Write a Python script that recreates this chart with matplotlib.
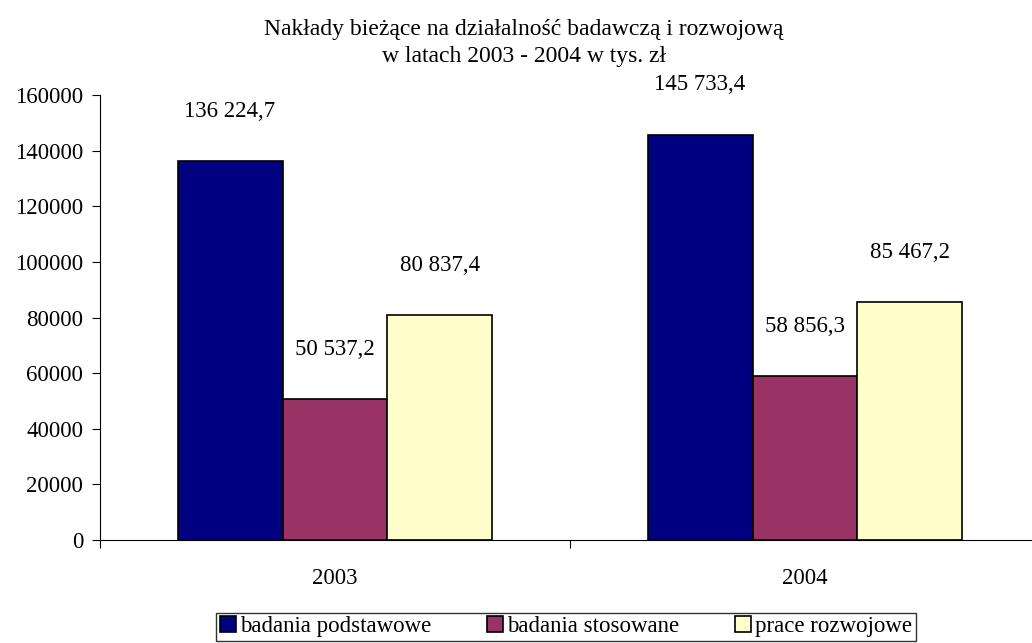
import numpy as np
import matplotlib.pyplot as plt

plt.rcParams['font.family'] = ['Liberation Serif', 'DejaVu Serif']

years = ['2003', '2004']
series = ['badania podstawowe', 'badania stosowane', 'prace rozwojowe']
podstawowe = [136224.7, 145733.4]
stosowane = [50537.2, 58856.3]
rozwojowe = [80837.4, 85467.2]
colors = ['#000080', '#993366', '#FFFFCC']


def fmt(v):
    s = f'{v:,.1f}'
    return s.replace(',', ' ').replace('.', ',')


fig = plt.figure(figsize=(10.32, 6.43), dpi=100)
ax = fig.add_axes([100 / 1032, 103 / 643, 940 / 1032, 445 / 643])

x = np.arange(len(years))
w = 0.2234
for i, (vals, c, name) in enumerate(zip([podstawowe, stosowane, rozwojowe], colors, series)):
    pos = x + (i - 1) * w
    ax.bar(pos, vals, w, color=c, edgecolor='black', linewidth=1.2, label=name)
    for p, v in zip(pos, vals):
        ax.annotate(fmt(v), (p, v), xytext=(0, 36), textcoords='offset points',
                    ha='center', va='center', fontsize=16.5)

ax.set_xlim(-0.5, 1.5)
ax.set_ylim(0, 160000)
ax.set_yticks(np.arange(0, 160001, 20000))
ax.set_xticks([-0.5, 0.5, 1.5])
ax.set_xticklabels([])
ax.set_xticks(x, minor=True)
ax.set_xticklabels(years, minor=True)
ax.tick_params(axis='x', which='minor', length=0, pad=20, labelsize=16.5)
ax.tick_params(axis='x', which='major', length=6, direction='out')
ax.tick_params(axis='y', length=6, labelsize=16.5, pad=6)
for s in ['top', 'right']:
    ax.spines[s].set_visible(False)

fig.text(524 / 1032, 1 - 43 / 643, 'Nakłady bieżące na działalność badawczą i rozwojową\nw latach 2003 - 2004 w tys. zł',
         ha='center', va='center', fontsize=17, linespacing=1.4)

leg = fig.legend(loc='upper center', bbox_to_anchor=(566 / 1032, 1 - 613 / 643), ncol=3,
                 fontsize=16.5, frameon=True, fancybox=False, edgecolor='black',
                 handlelength=0.7, handleheight=0.7, handletextpad=0.2, columnspacing=2.4,
                 borderpad=0.15, borderaxespad=0)
leg.get_frame().set_linewidth(1.0)

fig.savefig('out.png', dpi=100)
